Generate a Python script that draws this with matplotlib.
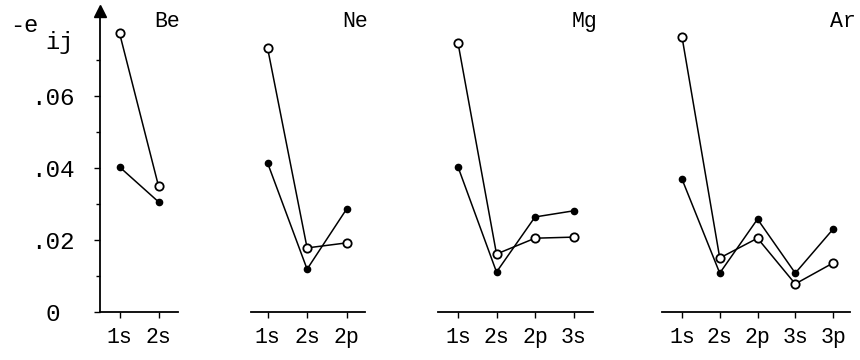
import matplotlib
matplotlib.use("Agg")
import matplotlib.pyplot as plt

plt.rcParams['font.family'] = ['Liberation Mono', 'DejaVu Sans Mono']

# orbital pair energies
be_orbitals = ["1s", "2s"]
be_open = [0.0775, 0.0350]
be_filled = [0.0403, 0.0306]

ne_orbitals = ["1s", "2s", "2p"]
ne_open = [0.0733, 0.0178, 0.0192]
ne_filled = [0.0414, 0.0119, 0.0286]

mg_orbitals = ["1s", "2s", "2p", "3s"]
mg_open = [0.0747, 0.0161, 0.0205, 0.0208]
mg_filled = [0.0403, 0.0111, 0.0264, 0.0281]

ar_orbitals = ["1s", "2s", "2p", "3s", "3p"]
ar_open = [0.0764, 0.0150, 0.0205, 0.0078, 0.0136]
ar_filled = [0.0369, 0.0108, 0.0258, 0.0108, 0.0230]

ytick_vals = [0, 0.02, 0.04, 0.06]
ytick_labels = ["0 ", ".02", ".04", ".06"]

panels = [("Be", be_orbitals, be_open, be_filled),
          ("Ne", ne_orbitals, ne_open, ne_filled),
          ("Mg", mg_orbitals, mg_open, mg_filled),
          ("Ar", ar_orbitals, ar_open, ar_filled)]

# layout in pixels: left edge, px per category, xlim
layout = [(100, 39.0, -0.5, 1.5),
          (251, 39.5, -0.42, 2.46),
          (438, 38.5, -0.52, 3.5),
          (662, 37.75, -0.53, 4.45)]

W, H = 860, 360
ytop = 0.0835
px_per_y = 3600.0

fig = plt.figure(figsize=(8.6, 3.6), dpi=100)

for i, ((name, orbs, op, fi), (left, unit, x0, x1)) in enumerate(zip(panels, layout)):
    ax = fig.add_axes([left / W, 48 / H, (x1 - x0) * unit / W, ytop * px_per_y / H])
    x = list(range(len(orbs)))
    ax.plot(x, fi, '-', color='k', lw=1.1, marker='o', ms=4.5, mfc='k', mec='k', zorder=3, clip_on=False)
    ax.plot(x, op, '-', color='k', lw=1.1, marker='o', ms=6, mfc='white', mec='k', mew=1.3, zorder=4, clip_on=False)
    ax.set_xlim(x0, x1)
    ax.set_ylim(0, ytop)
    ax.set_xticks(x)
    ax.set_xticklabels(orbs, fontsize=15.5)
    ax.tick_params(axis='x', direction='out', length=4, width=1, pad=7)
    ax.spines['top'].set_visible(False)
    ax.spines['right'].set_visible(False)
    ax.spines['bottom'].set_linewidth(1.3)
    ax.patch.set_visible(False)
    if i == 0:
        ax.spines['left'].set_linewidth(1.3)
        ax.set_yticks(ytick_vals)
        ax.set_yticklabels(ytick_labels, fontsize=17.5)
        ax.set_yticks([0.01, 0.03, 0.05, 0.07], minor=True)
        ax.tick_params(axis='y', which='major', direction='out', length=4, width=1, pad=14)
        ax.tick_params(axis='y', which='minor', direction='out', length=3, width=1)
        # arrow head on top of the y axis
        ax.plot(0, 1, marker='^', color='k', ms=8, transform=ax.transAxes, clip_on=False)
    else:
        ax.spines['left'].set_visible(False)
        ax.set_yticks([])
    ax.text(1.03, 0.0806, name, transform=ax.get_yaxis_transform(),
            ha='right', va='center', fontsize=15.5)

# y label "-e_ij"
fig.text(10 / W, 1 - 25 / H, "-e", ha='left', va='center', fontsize=17)
fig.text(45 / W, 1 - 42 / H, "ij", ha='left', va='center', fontsize=17)

fig.savefig("out.png", dpi=100)
